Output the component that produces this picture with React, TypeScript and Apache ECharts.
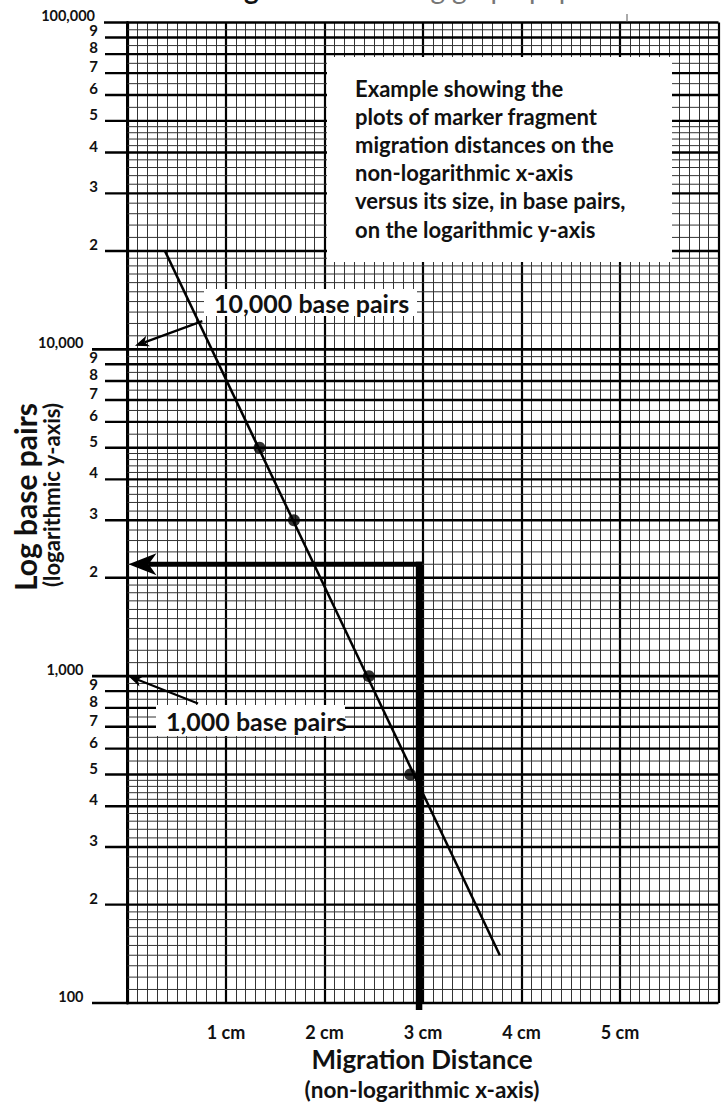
import React, { useEffect, useRef } from 'react';
import * as echarts from 'echarts';

// ---------- data ----------
const xTickLabels = ['1 cm', '2 cm', '3 cm', '4 cm', '5 cm'];
const decades = [100, 1000, 10000, 100000];
const decadeLabels = ['100', '1,000', '10,000', '100,000'];
const labeledMantissas = [2, 3, 4, 5, 6, 7, 8, 9];
const mantissaLabels = ['2', '3', '4', '5', '6', '7', '8', '9'];
const minorMantissas = [
  1.1, 1.2, 1.3, 1.4, 1.5, 1.6, 1.7, 1.8, 1.9,
  2.2, 2.4, 2.6, 2.8, 3.2, 3.4, 3.6, 3.8, 4.2, 4.4, 4.6, 4.8,
  5.5, 6.5, 7.5, 8.5, 9.5,
];

// marker fragments: migration distance (cm) vs size (base pairs)
const markerDistances = [1.34, 1.69, 2.45, 2.87];
const markerSizes = [5000, 3000, 1000, 500];
// fitted straight line end points
const fitDistances = [0.38, 3.78];
const fitSizes = [20000, 140];
// reading of an unknown fragment
const readingDistance = [2.96];
const readingSize = [2200];
// pointer arrows (tail -> tip) in data space
const pointerTails = [[0.76, 12200], [0.716, 825]];
const pointerTips = [[0.076, 10250], [0.01, 1000]];

const boxLines = [
  'Example showing the',
  'plots of marker fragment',
  'migration distances on the',
  'non-logarithmic x-axis',
  'versus its size, in base pairs,',
  'on the logarithmic y-axis',
];

const FONT = 'Lato, "Noto Sans", sans-serif';

type Row = { v: number; kind: 'minor' | 'major' | 'decade'; label?: string };
const rows: Row[] = [];
decades.forEach((d, i) => {
  rows.push({ v: d, kind: 'decade', label: decadeLabels[i] });
  if (i < decades.length - 1) {
    labeledMantissas.forEach((m, j) => rows.push({ v: d * m, kind: 'major', label: mantissaLabels[j] }));
    minorMantissas.forEach((m) => rows.push({ v: d * m, kind: 'minor' }));
  }
});

function arrowPts(tip: number[], from: number[], len: number, half: number, notch: number) {
  const dx = tip[0] - from[0];
  const dy = tip[1] - from[1];
  const L = Math.hypot(dx, dy) || 1;
  const ux = dx / L, uy = dy / L;
  const nx = -uy, ny = ux;
  const bx = tip[0] - ux * len, by = tip[1] - uy * len;
  const mx = tip[0] - ux * len * notch, my = tip[1] - uy * len * notch;
  return {
    pts: [[tip[0], tip[1]], [bx + nx * half, by + ny * half], [mx, my], [bx - nx * half, by - ny * half]],
    mid: [mx, my],
  };
}

function buildOption() {
  return {
    animation: false,
    backgroundColor: '#ffffff',
    grid: { left: 127.5, top: 22.5, width: 591, height: 980.5, containLabel: false },
    xAxis: {
      type: 'value',
      min: 0,
      max: 6,
      interval: 1,
      axisLine: { show: false },
      axisTick: { show: false },
      axisLabel: {
        margin: 19,
        color: '#111',
        fontFamily: FONT,
        fontWeight: 'bold',
        fontSize: 18,
        lineHeight: 19,
        formatter: (v: number) => (v >= 1 && v <= 5 ? xTickLabels[v - 1] : ''),
      },
      splitLine: { show: true, lineStyle: { color: '#000', width: 2.2 } },
      minorTick: { show: false, splitNumber: 10 },
      minorSplitLine: { show: true, lineStyle: { color: '#333', width: 1 } },
    },
    yAxis: {
      type: 'log',
      logBase: 10,
      min: 100,
      max: 100000,
      axisLine: { show: true, lineStyle: { color: '#000', width: 3 } },
      axisTick: { show: false },
      axisLabel: { show: false },
      splitLine: { show: false },
    },
    graphic: [
      { type: 'rect', z: 10, shape: { x: 327, y: 57, width: 345, height: 205 }, style: { fill: '#fff' } },
      {
        type: 'text', z: 11, x: 355, y: 74,
        style: { text: boxLines.join('\n'), font: `bold 22px ${FONT}`, fill: '#111', lineHeight: 28.2, textVerticalAlign: 'top' },
      },
      { type: 'rect', z: 10, shape: { x: 204, y: 289, width: 213, height: 27 }, style: { fill: '#fff' } },
      {
        type: 'text', z: 11, x: 214, y: 302.5,
        style: { text: '10,000 base pairs', font: `bold 25px ${FONT}`, fill: '#111', textVerticalAlign: 'middle' },
      },
      { type: 'rect', z: 10, shape: { x: 156, y: 705, width: 189, height: 31 }, style: { fill: '#fff' } },
      {
        type: 'text', z: 11, x: 166, y: 721,
        style: { text: '1,000 base pairs', font: `bold 25px ${FONT}`, fill: '#111', textVerticalAlign: 'middle' },
      },
      {
        type: 'text', z: 11, x: 25, y: 497, rotation: Math.PI / 2,
        style: { text: 'Log base pairs', font: `bold 30px ${FONT}`, fill: '#111', textAlign: 'center', textVerticalAlign: 'middle' },
      },
      {
        type: 'text', z: 11, x: 51, y: 495, rotation: Math.PI / 2,
        style: { text: '(logarithmic y-axis)', font: `bold 22px ${FONT}`, fill: '#111', textAlign: 'center', textVerticalAlign: 'middle' },
      },
      {
        type: 'text', z: 11, x: 422, y: 1059,
        style: { text: 'Migration Distance', font: `bold 26px ${FONT}`, fill: '#111', textAlign: 'center', textVerticalAlign: 'middle' },
      },
      {
        type: 'text', z: 11, x: 422, y: 1089,
        style: { text: '(non-logarithmic x-axis)', font: `bold 22.5px ${FONT}`, fill: '#111', textAlign: 'center', textVerticalAlign: 'middle' },
      },
      {
        type: 'text', z: 11, x: 221, y: -12,
        style: { text: 'Figure 1', font: `bold 28px ${FONT}`, fill: '#111', textVerticalAlign: 'middle' },
      },
      {
        type: 'text', z: 11, x: 376, y: -12,
        style: { text: 'Using graph paper', font: `28px ${FONT}`, fill: '#777', textVerticalAlign: 'middle' },
      },
      { type: 'line', z: 11, shape: { x1: 627, y1: 14, x2: 627, y2: 22 }, style: { stroke: '#555', lineWidth: 1 } },
    ],
    series: [
      {
        type: 'custom',
        name: 'paper',
        z: 2,
        silent: true,
        data: rows.map((r) => [0, r.v]),
        renderItem: (params: any, api: any) => {
          const r = rows[params.dataIndex];
          const p = api.coord([0, r.v]);
          const cs = params.coordSys;
          const y = p[1];
          const right = cs.x + cs.width;
          const children: any[] = [];
          if (r.kind === 'minor') {
            children.push({ type: 'line', shape: { x1: cs.x, y1: y, x2: right, y2: y }, style: { stroke: '#333', lineWidth: 1 } });
          } else if (r.kind === 'major') {
            children.push({ type: 'line', shape: { x1: cs.x - 22.5, y1: y, x2: right, y2: y }, style: { stroke: '#000', lineWidth: 2.4 } });
            children.push({
              type: 'text',
              style: { text: r.label, x: cs.x - 29.5, y: y - 7, font: `bold 15px ${FONT}`, fill: '#111', textAlign: 'right', textVerticalAlign: 'middle' },
            });
          } else {
            const top = r.v === decades[decades.length - 1];
            children.push({ type: 'line', shape: { x1: cs.x - (top ? 23.5 : 35.5), y1: y, x2: right, y2: y }, style: { stroke: '#000', lineWidth: 2.6 } });
            children.push({
              type: 'text',
              style: { text: r.label, x: cs.x - (top ? 32.5 : 44), y: y - 7, font: `bold 14.5px ${FONT}`, fill: '#111', textAlign: 'right', textVerticalAlign: 'middle' },
            });
          }
          return { type: 'group', children };
        },
      },
      {
        type: 'line',
        name: 'fit',
        z: 20,
        silent: true,
        symbol: 'none',
        data: fitDistances.map((x, i) => [x, fitSizes[i]]),
        lineStyle: { color: '#000', width: 2.5 },
      },
      {
        type: 'scatter',
        name: 'markers',
        z: 21,
        silent: true,
        symbolSize: 12,
        data: markerDistances.map((x, i) => [x, markerSizes[i]]),
        itemStyle: { color: '#000' },
      },
      {
        type: 'custom',
        name: 'reading',
        z: 25,
        silent: true,
        data: readingDistance.map((x, i) => [x, readingSize[i]]),
        renderItem: (params: any, api: any) => {
          const cs = params.coordSys;
          const p = api.coord([api.value(0), api.value(1)]);
          const tip = [cs.x + 1, p[1]];
          const a = arrowPts(tip, p, 28, 11, 0.72);
          const bottom = cs.y + cs.height + 7;
          return {
            type: 'group',
            children: [
              { type: 'line', shape: { x1: p[0] + 3, y1: p[1], x2: a.mid[0], y2: p[1] }, style: { stroke: '#000', lineWidth: 5 } },
              { type: 'line', shape: { x1: p[0], y1: p[1] - 2.5, x2: p[0], y2: bottom }, style: { stroke: '#000', lineWidth: 6.5 } },
              { type: 'polygon', shape: { points: a.pts }, style: { fill: '#000' } },
            ],
          };
        },
      },
      {
        type: 'custom',
        name: 'pointers',
        z: 25,
        silent: true,
        data: pointerTails.map((t, i) => [t[0], t[1], pointerTips[i][0], pointerTips[i][1]]),
        renderItem: (params: any, api: any) => {
          const from = api.coord([api.value(0), api.value(1)]);
          const tip = api.coord([api.value(2), api.value(3)]);
          const a = arrowPts(tip, from, 14, 5.5, 0.72);
          return {
            type: 'group',
            children: [
              { type: 'line', shape: { x1: from[0], y1: from[1], x2: a.mid[0], y2: a.mid[1] }, style: { stroke: '#000', lineWidth: 2.2 } },
              { type: 'polygon', shape: { points: a.pts }, style: { fill: '#000' } },
            ],
          };
        },
      },
    ],
  };
}

export default function App() {
  const ref = useRef<HTMLDivElement>(null);
  useEffect(() => {
    if (!ref.current) return;
    const chart = echarts.init(ref.current, null, { renderer: 'svg' });
    chart.setOption(buildOption() as any);
    return () => chart.dispose();
  }, []);
  return (
    <div
      ref={ref}
      style={{ position: 'fixed', left: 0, top: 0, width: 723, height: 1109, background: '#fff' }}
    />
  );
}
